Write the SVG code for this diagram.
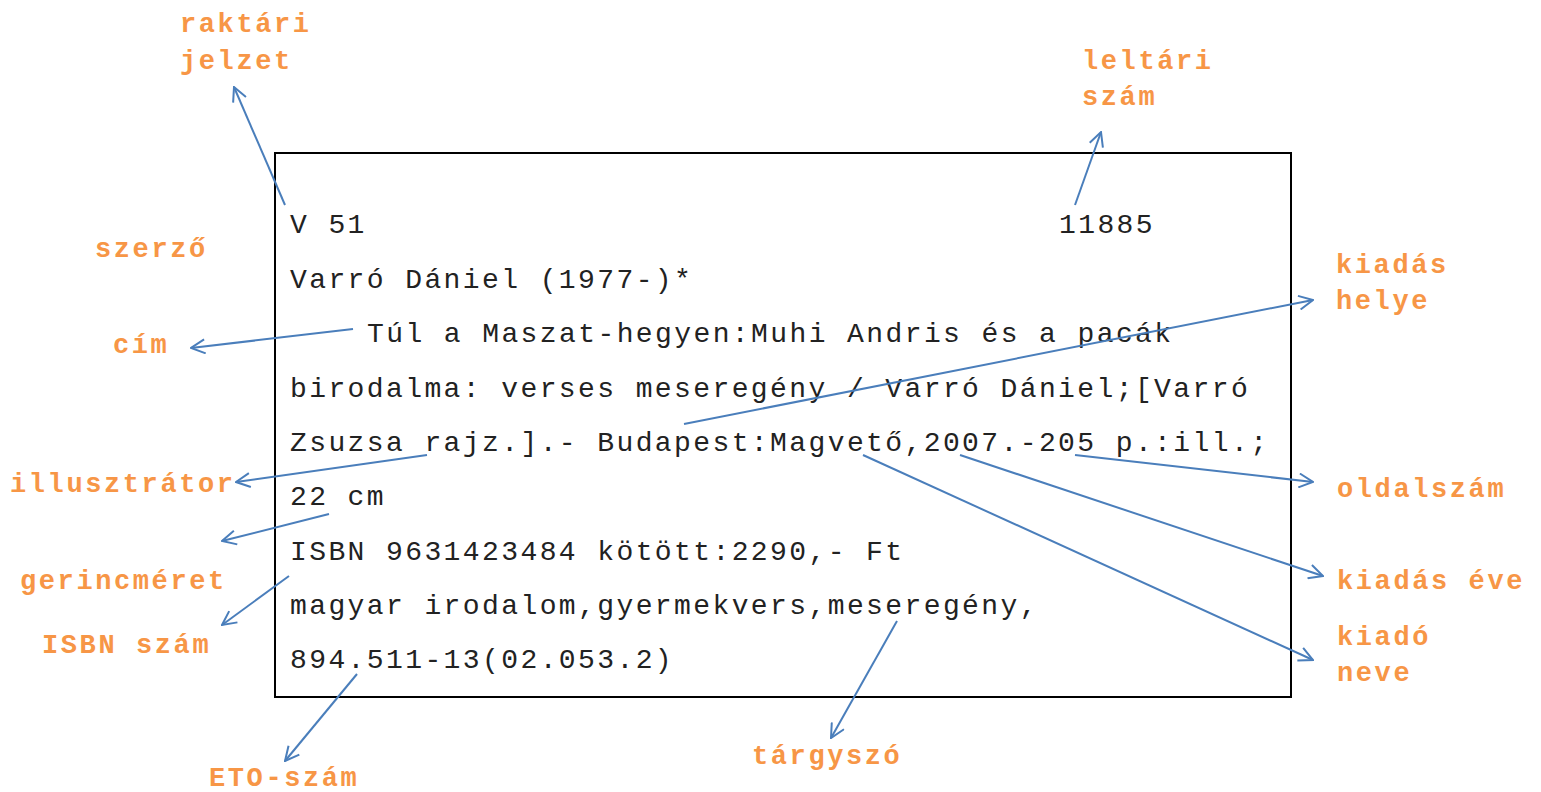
<svg xmlns="http://www.w3.org/2000/svg" width="1541" height="792" viewBox="0 0 1541 792">
<style>
.lbl{font-family:"Liberation Mono","Courier New",monospace;font-weight:bold;font-size:27px;letter-spacing:2.6px;fill:#F79646}
.card{font-family:"Liberation Mono","Courier New",monospace;font-size:28px;letter-spacing:2.4px;fill:#222}
.con line{stroke:#4A7EBB;stroke-width:2;fill:none;marker-end:url(#arr)}
</style>
<defs>
<marker id="arr" viewBox="0 0 16 16" refX="15" refY="8" markerWidth="16" markerHeight="16" markerUnits="userSpaceOnUse" orient="auto">
<path d="M1,1 L15,8 L1,15" fill="none" stroke="#4A7EBB" stroke-width="2"/>
</marker>
</defs>
<rect width="1541" height="792" fill="#fff"/>
<g id="card">
<rect x="275" y="153" width="1016" height="544" fill="none" stroke="#000" stroke-width="2"/>
<text class="card" x="290" y="233">V 51</text>
<text class="card" x="1059" y="233">11885</text>
<text class="card" x="290" y="288">Varró Dániel (1977-)*</text>
<text class="card" x="367" y="342">Túl a Maszat-hegyen:Muhi Andris és a pacák</text>
<text class="card" x="290" y="397">birodalma: verses meseregény / Varró Dániel;[Varró</text>
<text class="card" x="290" y="451">Zsuzsa rajz.].- Budapest:Magvető,2007.-205 p.:ill.;</text>
<text class="card" x="290" y="505">22 cm</text>
<text class="card" x="290" y="560">ISBN 9631423484 kötött:2290,- Ft</text>
<text class="card" x="290" y="614">magyar irodalom,gyermekvers,meseregény,</text>
<text class="card" x="290" y="668">894.511-13(02.053.2)</text>
</g>
<g id="label-raktari"><text class="lbl" x="180" y="32">raktári</text><text class="lbl" x="180" y="69">jelzet</text></g>
<g id="label-leltari"><text class="lbl" x="1082" y="69">leltári</text><text class="lbl" x="1082" y="105">szám</text></g>
<g id="label-szerzo"><text class="lbl" x="95" y="257">szerző</text></g>
<g id="label-cim"><text class="lbl" x="113" y="353">cím</text></g>
<g id="label-kiadas-helye"><text class="lbl" x="1336" y="273">kiadás</text><text class="lbl" x="1336" y="309">helye</text></g>
<g id="label-illusztrator"><text class="lbl" x="10" y="492">illusztrátor</text></g>
<g id="label-oldalszam"><text class="lbl" x="1337" y="497">oldalszám</text></g>
<g id="label-gerincmeret"><text class="lbl" x="20" y="589">gerincméret</text></g>
<g id="label-kiadas-eve"><text class="lbl" x="1337" y="589">kiadás éve</text></g>
<g id="label-isbn"><text class="lbl" x="42" y="653">ISBN szám</text></g>
<g id="label-kiado"><text class="lbl" x="1337" y="645">kiadó</text><text class="lbl" x="1337" y="681">neve</text></g>
<g id="label-targyszo"><text class="lbl" x="752" y="764">tárgyszó</text></g>
<g id="label-eto"><text class="lbl" x="209" y="786">ETO-szám</text></g>
<g id="connectors" class="con">
<line x1="285" y1="205" x2="234" y2="87"/>
<line x1="1075" y1="205" x2="1101" y2="132"/>
<line x1="353" y1="329" x2="191" y2="348"/>
<line x1="684" y1="424" x2="1313" y2="300"/>
<line x1="427" y1="455" x2="236" y2="482"/>
<line x1="329" y1="514" x2="222" y2="541"/>
<line x1="289" y1="576" x2="222" y2="625"/>
<line x1="357" y1="674" x2="285" y2="761"/>
<line x1="897" y1="621" x2="831" y2="738"/>
<line x1="1075" y1="455" x2="1313" y2="482"/>
<line x1="960" y1="455" x2="1323" y2="576"/>
<line x1="863" y1="455" x2="1313" y2="660"/>
</g>
</svg>
